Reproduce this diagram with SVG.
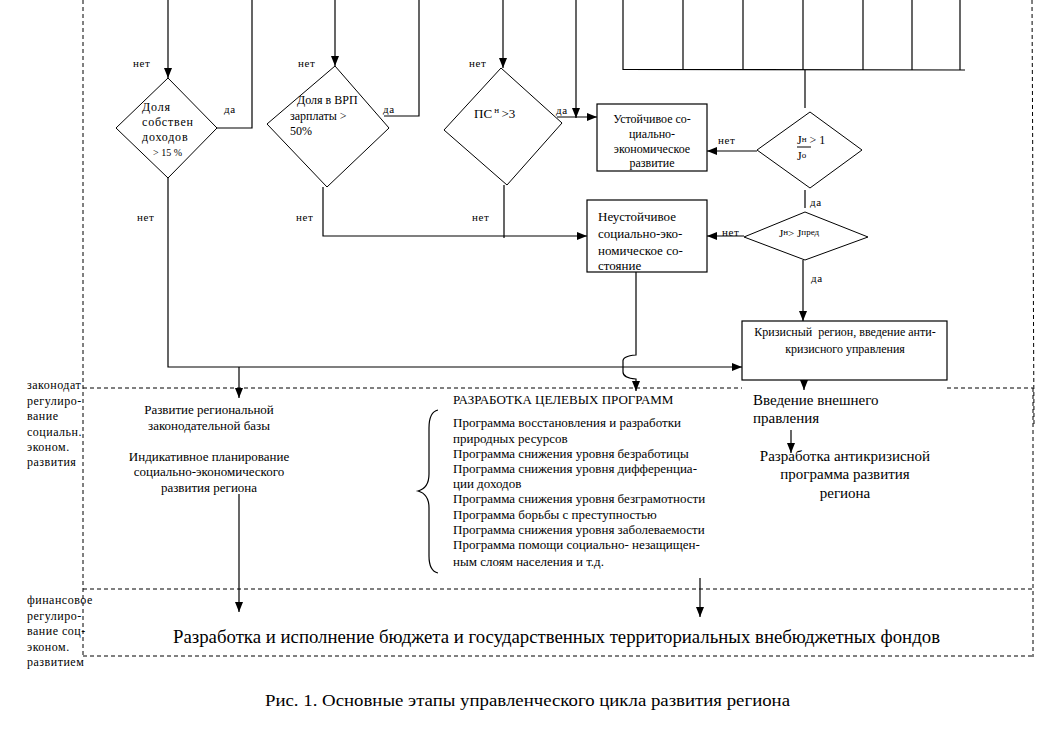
<svg xmlns="http://www.w3.org/2000/svg" width="1063" height="731" viewBox="0 0 1063 731" font-family="'Liberation Serif', 'DejaVu Serif', serif">
<style>
text{font-family:"Liberation Serif","DejaVu Serif",serif;fill:#000}
.s{font-size:12px}
.m{font-size:13px}
.l{font-size:15px}
.lab{font-size:11px;letter-spacing:0.6px}
.ln{fill:none;stroke:#000;stroke-width:1.2}
.ar{fill:none;stroke:#000;stroke-width:1.2;marker-end:url(#arr)}
.dg{fill:#fff;stroke:#000;stroke-width:1}
.bx{fill:#fff;stroke:#000;stroke-width:1.2}
.ds{fill:none;stroke:#000;stroke-width:1;stroke-dasharray:4 3}
</style>
<defs>
<marker id="arr" markerUnits="userSpaceOnUse" markerWidth="10" markerHeight="8" refX="10" refY="4" orient="auto">
<path d="M0,0 L10,4 L0,8 z" fill="#000"/>
</marker>
</defs>
<rect width="1063" height="731" fill="#fff"/>

<g id="frame">
<line class="ds" x1="83" y1="0" x2="83" y2="657"/>
<line class="ds" x1="1032" y1="0" x2="1034" y2="425"/>
<line class="ds" x1="1033" y1="388" x2="1033" y2="657"/>
<line class="ds" x1="83" y1="388" x2="742" y2="388"/>
<line class="ds" x1="947" y1="388" x2="1033" y2="388"/>
<line class="ds" x1="83" y1="589" x2="1033" y2="589"/>
<line class="ds" x1="83" y1="656" x2="1033" y2="656"/>
</g>

<g id="connectors">
<line class="ar" x1="168" y1="0" x2="168" y2="78"/>
<polyline class="ln" points="217,128 252,128 252,0"/>
<polyline class="ar" points="168,178 168,367 742,367"/>
<line class="ar" x1="239" y1="367" x2="239" y2="398"/>
<line class="ar" x1="335" y1="0" x2="335" y2="66"/>
<polyline class="ln" points="384,116 419,116 419,0"/>
<polyline class="ar" points="323,187 323,236 587,236"/>
<line class="ar" x1="503" y1="0" x2="503" y2="68"/>
<line class="ln" x1="504" y1="185" x2="504" y2="238"/>
<line class="ar" x1="576" y1="0" x2="576" y2="118"/>
<line class="ar" x1="557" y1="117" x2="597" y2="117"/>
<g id="grid">
<line class="ln" x1="623" y1="0" x2="623" y2="70"/>
<line class="ln" x1="683" y1="0" x2="683" y2="70"/>
<line class="ln" x1="743" y1="0" x2="743" y2="70"/>
<line class="ln" x1="803" y1="0" x2="803" y2="70"/>
<line class="ln" x1="863" y1="0" x2="863" y2="70"/>
<line class="ln" x1="912" y1="0" x2="912" y2="70"/>
<line class="ln" x1="960" y1="0" x2="960" y2="70"/>
<line class="ln" x1="623" y1="69.5" x2="965" y2="70"/>
</g>
<line class="ln" x1="805" y1="70" x2="805" y2="108"/>
<line class="ar" x1="757" y1="151" x2="707" y2="151"/>
<line class="ln" x1="805" y1="190" x2="805" y2="208"/>
<line class="ar" x1="744" y1="236" x2="707" y2="236"/>
<line class="ar" x1="803" y1="260" x2="803" y2="321"/>
<path class="ar" d="M636,272 L636,355 Q622,356 623,362 L623,372 Q623,378 636,379 L636,391"/>
<line class="ar" x1="804" y1="380" x2="804" y2="390"/>
<line class="ar" x1="791" y1="430" x2="791" y2="453"/>
<line class="ar" x1="239" y1="494" x2="239" y2="612"/>
<line class="ar" x1="700" y1="578" x2="700" y2="617"/>
<path class="ln" d="M438,410 Q429,412 429,428 L429,474 Q429,488 418,491 Q429,494 429,508 L429,556 Q429,571 438,573"/>
</g>

<g id="d1">
<polygon class="dg" points="168,78 217,128 168,178 116,128"/>
<text class="s" x="142" y="111" letter-spacing="0.8">Доля</text>
<text class="s" x="142" y="126" letter-spacing="0.8">собствен</text>
<text class="s" x="142" y="141" letter-spacing="0.8">доходов</text>
<text x="153" y="156" style="font-size:10px">&gt; 15 %</text>
</g>
<g id="d2">
<polygon class="dg" points="335,66 389,128 327,187 267,124"/>
<text class="s" x="297" y="104">Доля в ВРП</text>
<text class="s" x="290" y="120">зарплаты &gt;</text>
<text class="s" x="290" y="135">50%</text>
</g>
<g id="d3">
<polygon class="dg" points="501,68 562,123 507,185 444,130"/>
<text x="474" y="118" style="font-size:13px">ПС<tspan dy="-5" font-size="9"> н </tspan><tspan dy="5">&gt;3</tspan></text>
</g>
<g id="d4">
<polygon class="dg" points="810,112 862,150 810,188 757,150"/>
<text x="797" y="144" style="font-size:12px">J<tspan font-size="9" dy="-2">н</tspan><tspan dy="2"> &gt; 1</tspan></text>
<line x1="797" y1="147" x2="811" y2="147" stroke="#000" stroke-width="1"/>
<text x="797" y="160" style="font-size:12px">J<tspan font-size="9" dy="-2">о</tspan></text>
</g>
<g id="d5">
<polygon class="dg" points="805,212 868,237 805,260 744,237"/>
<text x="779" y="237" style="font-size:11px">J<tspan font-size="9" dy="-2">н</tspan><tspan dy="2">&gt; J</tspan><tspan font-size="9" dy="-2">пред</tspan></text>
</g>

<g id="labels" class="lab">
<text x="133" y="67">нет</text>
<text x="224" y="113">да</text>
<text x="137" y="221">нет</text>
<text x="298" y="67">нет</text>
<text x="383" y="113">да</text>
<text x="296" y="221">нет</text>
<text x="469" y="67">нет</text>
<text x="556" y="114">да</text>
<text x="472" y="221">нет</text>
<text x="718" y="144">нет</text>
<text x="810" y="206">да</text>
<text x="722" y="236">нет</text>
<text x="811" y="282">да</text>
</g>

<g id="n-stable">
<rect class="bx" x="597" y="104" width="110" height="67"/>
<text class="s" text-anchor="middle" x="652" y="123">Устойчивое со-</text>
<text class="s" text-anchor="middle" x="652" y="138">циально-</text>
<text class="s" text-anchor="middle" x="652" y="153">экономическое</text>
<text class="s" text-anchor="middle" x="652" y="167">развитие</text>
</g>
<g id="n-unstable">
<rect class="bx" x="587" y="200" width="120" height="72"/>
<text class="m" x="598" y="221">Неустойчивое</text>
<text class="m" x="598" y="238">социально-эко-</text>
<text class="m" x="598" y="255">номическое со-</text>
<text class="m" x="598" y="270">стояние</text>
</g>
<g id="n-crisis">
<rect class="bx" x="742" y="321" width="205" height="59"/>
<text class="s" text-anchor="middle" x="845" y="336" xml:space="preserve">Кризисный  регион, введение анти-</text>
<text class="s" text-anchor="middle" x="845" y="353">кризисного управления</text>
</g>

<g id="side-labels" class="s" letter-spacing="0.5">
<text x="27" y="389">законодат</text>
<text x="27" y="405">регулиро-</text>
<text x="27" y="420">вание</text>
<text x="27" y="436">социальн.</text>
<text x="27" y="451">эконом.</text>
<text x="27" y="466">развития</text>
<text x="27" y="604">финансовое</text>
<text x="27" y="620">регулиро-</text>
<text x="27" y="635">вание соц-</text>
<text x="27" y="651">эконом.</text>
<text x="27" y="666">развитием</text>
</g>

<g id="n-legal" class="m" text-anchor="middle">
<text x="209" y="414">Развитие региональной</text>
<text x="209" y="430">законодательной базы</text>
<text x="209" y="461">Индикативное планирование</text>
<text x="209" y="476">социально-экономического</text>
<text x="209" y="492">развития региона</text>
</g>

<g id="n-programs" class="m">
<text x="453" y="404">РАЗРАБОТКА ЦЕЛЕВЫХ ПРОГРАММ</text>
<text x="453" y="427">Программа восстановления и разработки</text>
<text x="453" y="443">природных ресурсов</text>
<text x="453" y="458">Программа снижения уровня безработицы</text>
<text x="453" y="473">Программа снижения уровня дифференциа-</text>
<text x="453" y="488">ции доходов</text>
<text x="453" y="503">Программа снижения уровня безграмотности</text>
<text x="453" y="519">Программа борьбы с преступностью</text>
<text x="453" y="534">Программа снижения уровня заболеваемости</text>
<text x="453" y="549">Программа помощи социально- незащищен-</text>
<text x="453" y="566">ным слоям населения и  т.д.</text>
</g>

<g id="n-external" class="l">
<text x="753" y="405">Введение внешнего</text>
<text x="753" y="423">правления</text>
<text text-anchor="middle" x="845" y="461">Разработка антикризисной</text>
<text text-anchor="middle" x="845" y="479">программа развития</text>
<text text-anchor="middle" x="845" y="498">региона</text>
</g>

<g id="n-budget">
<text x="173" y="643" style="font-size:18px" textLength="767" lengthAdjust="spacingAndGlyphs">Разработка и исполнение бюджета и государственных территориальных внебюджетных фондов</text>
</g>

<text x="265" y="706" style="font-size:16px" textLength="525" lengthAdjust="spacingAndGlyphs">Рис. 1. Основные этапы управленческого цикла развития региона</text>
</svg>
